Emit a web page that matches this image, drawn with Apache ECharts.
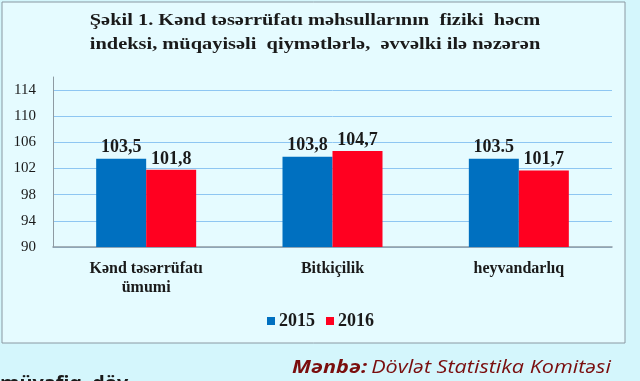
<!DOCTYPE html>
<html><head><meta charset="utf-8">
<script src="https://cdn.jsdelivr.net/npm/echarts@6/dist/echarts.min.js"></script>
<style>html,body{margin:0;padding:0;background:#D4F6FC}#c{width:640px;height:381px}</style>
</head><body><div id="c"></div>
<script>
const categories = ['Kənd təsərrüfatı\nümumi', 'Bitkiçilik', 'heyvandarlıq'];
const seriesNames = ['2015', '2016'];
const values2015 = [103.5, 103.8, 103.5];
const values2016 = [101.8, 104.7, 101.7];
const labels2015 = ['103,5', '103,8', '103.5'];
const labels2016 = ['101,8', '104,7', '101,7'];
const yTicks = [90, 94, 98, 102, 106, 110, 114];
const titleLines = ['Şəkil 1. Kənd təsərrüfatı məhsullarının  fiziki  həcm', 'indeksi, müqayisəli  qiymətlərlə,  əvvəlki ilə nəzərən'];

const serif = '"Liberation Serif", "DejaVu Serif", serif';
const sans = '"Open Sans", "Noto Sans", sans-serif';
const chart = echarts.init(document.getElementById('c'));
const valueLabel = (arr) => ({
  show: true, position: 'top', distance: 2,
  fontFamily: serif, fontWeight: 'bold', fontSize: 18, color: '#1a1a1a',
  formatter: p => arr[p.dataIndex]
});
chart.setOption({
  backgroundColor: '#D4F6FC',
  animation: false,
  graphic: [
    { type: 'rect', z: -10, silent: true, shape: { x: 2, y: 2, width: 623, height: 341 },
      style: { fill: '#E5FBFF', stroke: '#8A98A2', lineWidth: 1 } },
    { type: 'text', x: 315, y: 33, scaleX: 1.2, style: { text: titleLines.join('\n'), textAlign: 'center', textVerticalAlign: 'middle',
      font: 'bold 17px ' + serif, fill: '#1a1a1a', lineHeight: 24 } },
    { type: 'text', x: 292, y: 368, scaleX: 1.2, style: { textVerticalAlign: 'middle', text: '{b|Mənbə:} {n|Dövlət Statistika Komitəsi}',
      rich: { b: { fontFamily: sans, fontStyle: 'italic', fontWeight: 'bold', fontSize: 18, fill: '#7A0E0E', color: '#7A0E0E' },
              n: { fontFamily: sans, fontStyle: 'italic', fontSize: 18, fill: '#7A0E0E', color: '#7A0E0E' } } } },
    { type: 'text', x: 0, y: 375, scaleX: 1.1, style: { text: 'müvafiq  döv', font: 'bold 18px ' + sans, fill: '#1a1a1a', textVerticalAlign: 'top' } }
  ],
  legend: {
    data: seriesNames, left: 262, top: 307, itemWidth: 8, itemHeight: 8, itemGap: 11, icon: 'rect',
    textStyle: { fontFamily: serif, fontWeight: 'bold', fontSize: 18, color: '#1a1a1a', padding: [0, 0, 0, -1] }
  },
  grid: { left: 53, right: 28, top: 77, bottom: 134, containLabel: false },
  xAxis: {
    type: 'category', data: categories,
    axisLine: { lineStyle: { color: '#8E9AA2', width: 1.5 } },
    axisTick: { show: false },
    axisLabel: { interval: 0, margin: 12, fontFamily: serif, fontWeight: 'bold', fontSize: 16, color: '#1a1a1a', lineHeight: 19 }
  },
  yAxis: {
    type: 'value', min: 90, max: 116, interval: 2,
    axisLine: { show: true, lineStyle: { color: '#8E9AA2', width: 1 } },
    axisTick: { show: false },
    axisLabel: { margin: 17, fontFamily: serif, fontSize: 15, color: '#1a1a1a',
      formatter: v => yTicks.includes(v) ? String(v) : '' },
    splitLine: { show: true, lineStyle: { color: ['#8EC6F2', 'rgba(0,0,0,0)'], width: 1 } }
  },
  series: [
    { name: seriesNames[0], type: 'bar', data: values2015, barWidth: 50, barGap: '0%',
      itemStyle: { color: '#0070C0' }, label: valueLabel(labels2015) },
    { name: seriesNames[1], type: 'bar', data: values2016, barWidth: 50, barGap: '0%',
      itemStyle: { color: '#FF0020' }, label: valueLabel(labels2016) }
  ]
});
</script></body></html>
